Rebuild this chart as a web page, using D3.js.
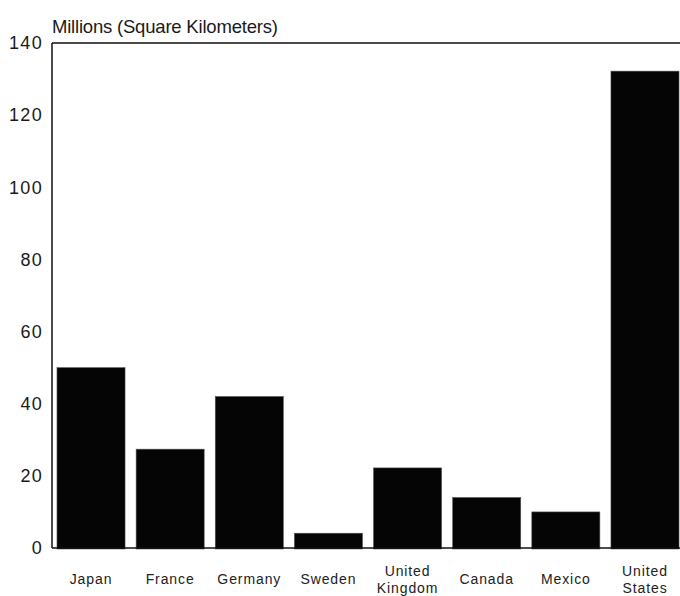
<!DOCTYPE html>
<html><head><meta charset="utf-8">
<script src="https://cdn.jsdelivr.net/npm/d3@7"></script>
<style>html,body{margin:0;padding:0;background:#fff;}svg{display:block;font-family:"Liberation Sans",Arial,sans-serif;}</style>
</head><body>
<svg id="c" width="680" height="596"></svg>
<script>
const categories = [["Japan"],["France"],["Germany"],["Sweden"],["United","Kingdom"],["Canada"],["Mexico"],["United","States"]];
const values = [50, 27.4, 42, 4.1, 22.2, 14, 10, 132.2];
const yTicks = [0, 20, 40, 60, 80, 100, 120, 140];
const yTitle = "Millions (Square Kilometers)";

(function(){
const svg = d3.select("#c");
const mLeft = 52, mRight = 684, mTop = 43, mBottom = 548;
const keys = categories.map(c => c.join(" "));
const x = d3.scaleBand().domain(keys).range([mLeft, mRight]).paddingInner(0.14).paddingOuter(0.063);
const y = d3.scaleLinear().domain([0, 140]).range([mBottom, mTop]);

// bars
svg.append("g").selectAll("rect").data(values).join("rect")
  .attr("x", (d,i) => x(keys[i]))
  .attr("y", d => y(d))
  .attr("width", x.bandwidth())
  .attr("height", d => y(0) - y(d) + 1)
  .attr("fill", "#050505")
  .attr("stroke", "#555").attr("stroke-width", 0.6);

// frame lines
svg.append("line").attr("x1", mLeft).attr("x2", 680).attr("y1", y(140)).attr("y2", y(140)).attr("stroke", "#111").attr("stroke-width", 1.5);
svg.append("line").attr("x1", mLeft).attr("x2", mLeft).attr("y1", y(140)).attr("y2", y(0)).attr("stroke", "#111").attr("stroke-width", 1.5);
svg.append("line").attr("x1", mLeft).attr("x2", 680).attr("y1", y(0)).attr("y2", y(0)).attr("stroke", "#111").attr("stroke-width", 1.5);

// y axis labels
const yAxis = d3.axisLeft(y).tickValues(yTicks).tickSize(0).tickPadding(9);
const gy = svg.append("g").attr("transform", `translate(${mLeft},0)`).call(yAxis);
gy.select(".domain").remove();
gy.selectAll("text").attr("font-size", 18).attr("fill", "#1a1a1a").style("letter-spacing", "1.3px")
  .attr("font-family", "'Liberation Sans',Arial,sans-serif");

// x axis labels
const gx = svg.append("g");
categories.forEach((c, i) => {
  const cx = x(keys[i]) + x.bandwidth()/2;
  const t = gx.append("text").attr("text-anchor", "middle").attr("font-size", 14)
    .attr("fill", "#222").style("letter-spacing", "0.9px");
  if (c.length === 1) {
    t.append("tspan").attr("x", cx).attr("y", 584).text(c[0]);
  } else {
    c.forEach((w, j) => t.append("tspan").attr("x", cx).attr("y", 576 + j*16.5).text(w));
  }
});

// title
svg.append("text").attr("x", mLeft).attr("y", 33).attr("font-size", 18.5).attr("fill", "#1a1a1a")
  .style("letter-spacing", "-0.2px").text(yTitle);
})();
</script>
</body></html>
